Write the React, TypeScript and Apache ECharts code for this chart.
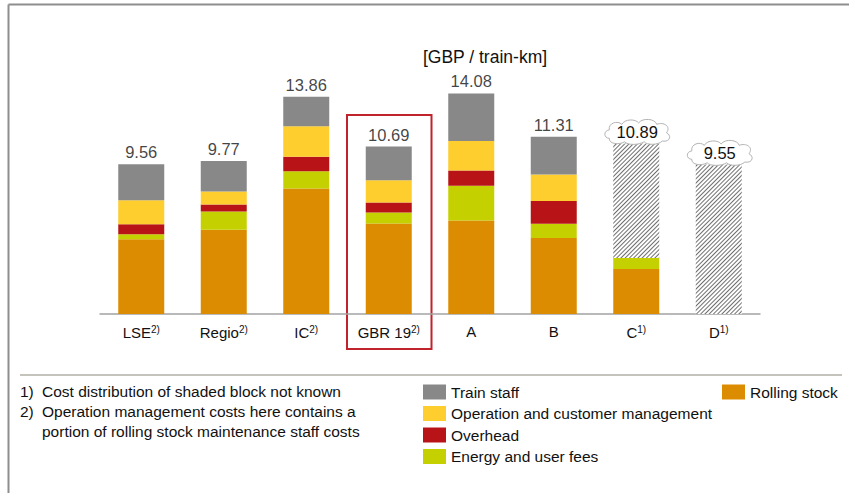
import React, { useEffect, useRef } from "react";
import * as echarts from "echarts";

const categories = ["LSE", "Regio", "IC", "GBR 19", "A", "B", "C", "D"];
const superscripts = ["2)", "2)", "2)", "2)", "", "", "1)", "1)"];

const rollingStock = [4.77, 5.38, 8.01, 5.78, 5.97, 4.85, 2.88, null];
const energyFees = [0.32, 1.17, 1.1, 0.7, 2.22, 0.91, 0.7, null];
const overhead = [0.64, 0.44, 0.93, 0.64, 0.97, 1.46, null, null];
const operation = [1.53, 0.83, 1.95, 1.42, 1.89, 1.69, null, null];
const trainStaff = [2.3, 1.95, 1.87, 2.15, 3.03, 2.4, null, null];
const unknownShare = [null, null, null, null, null, null, 7.31, 9.55];

const totals = [9.56, 9.77, 13.86, 10.69, 14.08, 11.31, null, null];
const cloudTotals = [
  [6, 10.89],
  [7, 9.55],
];

const FONT = "Liberation Sans, Arial, sans-serif";

const CLOUD =
  "M10,30 C2,30 1,19 10,18 C8,8 22,4 28,10 C32,2 48,2 52,8 C58,0 76,2 78,10 C88,6 99,13 92,22 C100,26 97,36 86,34 C80,40 64,40 60,35 C52,40 36,40 32,35 C24,40 9,38 10,30 Z";

export default function App() {
  const ref = useRef<HTMLDivElement>(null);

  useEffect(() => {
    if (!ref.current) return;
    const chart = echarts.init(ref.current, null, { renderer: "svg" });

    const barBase = {
      type: "bar",
      stack: "total",
      barWidth: 46,
    };

    const legendText = { fontSize: 15.5, lineHeight: 15, color: "#111", fontFamily: FONT };
    const noteStyle = { fontSize: 15.5, fill: "#111", fontFamily: FONT, verticalAlign: "middle" };

    chart.setOption({
      animation: false,
      backgroundColor: "#fff",
      textStyle: { fontFamily: FONT },
      grid: { left: 100, right: 89, top: 79, bottom: 179 },
      xAxis: {
        type: "category",
        data: categories,
        axisLine: { lineStyle: { color: "#a3a3a3", width: 1.5 } },
        axisTick: { show: false },
        axisLabel: {
          interval: 0,
          margin: 10,
          formatter: (v: string, i: number) =>
            superscripts[i] ? `{a|${v}}{s|${superscripts[i]}}` : `{a|${v}}`,
          rich: {
            a: { fontSize: 15, color: "#111", fontFamily: FONT },
            s: { fontSize: 10, color: "#111", fontFamily: FONT, verticalAlign: "top", padding: [0, 0, 6, 0] },
          },
        },
      },
      yAxis: { type: "value", min: 0, max: 15, show: false, splitLine: { show: false } },
      legend: [
        {
          orient: "vertical",
          left: 423,
          top: 384,
          padding: 0,
          itemWidth: 23,
          itemHeight: 15,
          itemGap: 5.5,
          icon: "rect",
          selectedMode: false,
          textStyle: legendText,
          data: ["Train staff", "Operation and customer management", "Overhead", "Energy and user fees"],
        },
        {
          orient: "vertical",
          left: 722,
          top: 384,
          padding: 0,
          itemWidth: 23,
          itemHeight: 15,
          icon: "rect",
          selectedMode: false,
          textStyle: legendText,
          data: ["Rolling stock"],
        },
      ],
      series: [
        { ...barBase, name: "Rolling stock", data: rollingStock, itemStyle: { color: "#dc8c00" } },
        { ...barBase, name: "Energy and user fees", data: energyFees, itemStyle: { color: "#c4d000" } },
        { ...barBase, name: "Overhead", data: overhead, itemStyle: { color: "#b81417" } },
        { ...barBase, name: "Operation and customer management", data: operation, itemStyle: { color: "#fecd2e" } },
        { ...barBase, name: "Train staff", data: trainStaff, itemStyle: { color: "#888888" } },
        {
          ...barBase,
          name: "Unknown",
          data: unknownShare,
          itemStyle: {
            color: "#ffffff",
            decal: {
              symbol: "rect",
              symbolSize: 1,
              rotation: -Math.PI / 4,
              dashArrayX: [1, 0],
              dashArrayY: [0.9, 1.2],
              color: "#6e6e6e",
              backgroundColor: "#f4f4f4",
            },
          },
        },
        {
          type: "scatter",
          name: "Totals",
          data: totals,
          symbolSize: 1,
          itemStyle: { color: "rgba(0,0,0,0)" },
          label: {
            show: true,
            position: "top",
            distance: 3,
            fontSize: 16.5,
            color: "#111",
            fontFamily: FONT,
            formatter: (p: any) => (p.value == null ? "" : Number(p.value).toFixed(2)),
          },
          z: 5,
        },
        {
          type: "custom",
          name: "Cloud totals",
          data: cloudTotals,
          encode: { x: 0, y: 1 },
          z: 6,
          renderItem: (params: any, api: any) => {
            const p = api.coord([api.value(0), api.value(1)]);
            return {
              type: "group",
              children: [
                {
                  type: "path",
                  shape: { pathData: CLOUD, x: p[0] - 33, y: p[1] - 24, width: 68, height: 25 },
                  style: { fill: "#fff", stroke: "#b3b3b3", lineWidth: 1 },
                },
                {
                  type: "text",
                  style: {
                    text: Number(api.value(1)).toFixed(2),
                    x: p[0] + 1,
                    y: p[1] - 11,
                    align: "center",
                    verticalAlign: "middle",
                    fontSize: 16.5,
                    fill: "#111",
                    fontFamily: FONT,
                  },
                },
              ],
            };
          },
        },
      ],
      graphic: [
        { type: "line", shape: { x1: 8.5, y1: 4.5, x2: 849, y2: 4.5 }, style: { stroke: "#8e8e8e", lineWidth: 2 } },
        { type: "line", shape: { x1: 8.5, y1: 4.5, x2: 8.5, y2: 493 }, style: { stroke: "#8e8e8e", lineWidth: 2 } },
        {
          type: "text",
          x: 485,
          y: 57,
          style: { text: "[GBP / train-km]", fontSize: 17.5, fill: "#111", fontFamily: FONT, align: "center", verticalAlign: "middle" },
        },
        {
          type: "rect",
          shape: { x: 347, y: 115, width: 84.5, height: 234 },
          style: { fill: "none", stroke: "#c0232c", lineWidth: 2 },
        },
        { type: "line", shape: { x1: 20, y1: 375, x2: 842, y2: 375 }, style: { stroke: "#c4c4bc", lineWidth: 2 } },
        { type: "text", x: 20, y: 391, style: { text: "1)", ...noteStyle } },
        { type: "text", x: 42, y: 391, style: { text: "Cost distribution of shaded block not known", ...noteStyle } },
        { type: "text", x: 20, y: 411, style: { text: "2)", ...noteStyle } },
        { type: "text", x: 42, y: 411, style: { text: "Operation management costs here contains a", ...noteStyle } },
        { type: "text", x: 42, y: 431, style: { text: "portion of rolling stock maintenance staff costs", ...noteStyle } },
      ],
    });

    return () => chart.dispose();
  }, []);

  return (
    <div
      ref={ref}
      style={{ position: "absolute", left: 0, top: 0, width: 849, height: 493 }}
    />
  );
}
